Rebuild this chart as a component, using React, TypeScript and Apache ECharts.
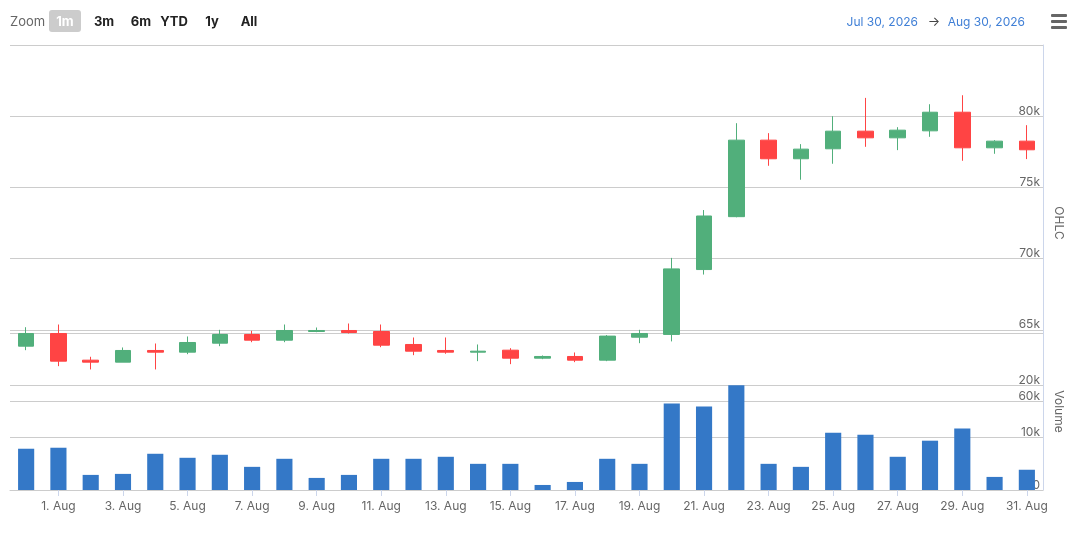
import React, { useEffect, useRef } from "react";
import * as echarts from "echarts";

const dates: string[] = [
  "31. Jul", "1. Aug", "2. Aug", "3. Aug", "4. Aug", "5. Aug", "6. Aug", "7. Aug",
  "8. Aug", "9. Aug", "10. Aug", "11. Aug", "12. Aug", "13. Aug", "14. Aug", "15. Aug",
  "16. Aug", "17. Aug", "18. Aug", "19. Aug", "20. Aug", "21. Aug", "22. Aug", "23. Aug",
  "24. Aug", "25. Aug", "26. Aug", "27. Aug", "28. Aug", "29. Aug", "30. Aug", "31. Aug",
];

const opens: number[] = [
  63850, 64741, 62868, 62728, 63548, 63429, 64060, 64670, 64271, 64881, 64951, 64880,
  63969, 63548, 63429, 63569, 63008, 63127, 62868, 64481, 64676, 69231, 72945, 78318,
  77010, 77711, 78949, 78482, 78972, 80280, 77781, 78248,
];
const highs: number[] = [
  65182, 65372, 63106, 63759, 64039, 64530, 65000, 64930, 65372, 65161, 65442, 65372,
  64460, 64460, 63969, 63710, 63197, 63408, 64629, 65000, 70050, 73410, 79509, 78809,
  78038, 80000, 81285, 79229, 80841, 81472, 78318, 79369,
];
const lows: number[] = [
  63569, 62447, 62216, 62728, 62216, 63289, 63850, 64130, 64130, 64832, 64741, 63780,
  63219, 63317, 62798, 62588, 62938, 62728, 62798, 64060, 64185, 68880, 72900, 76519,
  75538, 76660, 77851, 77617, 78552, 76870, 77360, 76987,
];
const closes: number[] = [
  64741, 62798, 62728, 63548, 63429, 64109, 64670, 64271, 64951, 64951, 64811, 63920,
  63499, 63430, 63499, 63008, 63127, 62868, 64558, 64741, 69278, 72992, 78318, 77010,
  77687, 78949, 78482, 79019, 80280, 77781, 78248, 77641,
];
const volumes: number[] = [
  7885, 8077, 2885, 3077, 6923, 6154, 6731, 4423, 5962, 2308, 2885, 5962, 5962, 6346,
  5000, 5000, 962, 1538, 5962, 5000, 16538, 15962, 20000, 5000, 4423, 10961, 10577,
  6346, 9423, 11731, 2500, 3846,
];

const zoomButtons: string[] = ["1m", "3m", "6m", "YTD", "1y", "All"];
const rangeFrom = "Jul 30, 2026";
const rangeTo = "Aug 30, 2026";

const FONT = "Inter, 'Noto Sans', sans-serif";
const GREEN = "#51af7b";
const RED = "#ff4444";
const BLUE = "#3478c7";
const GRID = "#cccccc";
const AXIS = "#ccd6eb";

const kFmt = (v: number) => (v === 0 ? "0" : v / 1000 + "k");

export default function App() {
  const ref = useRef<HTMLDivElement>(null);
  useEffect(() => {
    if (!ref.current) return;
    const chart = echarts.init(ref.current, undefined, { renderer: "svg" });
    const candle = dates.map((_, i) => [opens[i], closes[i], lows[i], highs[i]]);
    const btnX = [65, 104, 141, 174, 212, 249];
    const graphics: any[] = [
      {
        type: "text", x: 10, y: 21,
        style: { text: "Zoom", font: `13px ${FONT}`, fill: "#666666", textVerticalAlign: "middle" },
      },
      {
        type: "rect", shape: { x: 49, y: 10, width: 32, height: 22, r: 3 },
        style: { fill: "#cccccc" },
      },
      ...zoomButtons.map((b, i) => ({
        type: "text", x: btnX[i], y: 21,
        style: {
          text: b, font: `bold 13px ${FONT}`, fill: i === 0 ? "#ffffff" : "#222222",
          textAlign: "center", textVerticalAlign: "middle",
        },
      })),
      {
        type: "text", x: 918, y: 21,
        style: { text: rangeFrom, font: `12px ${FONT}`, fill: "#3f7fd6", textAlign: "right", textVerticalAlign: "middle" },
      },
      {
        type: "text", x: 934, y: 21,
        style: { text: "→", font: `13px ${FONT}`, fill: "#444444", textAlign: "center", textVerticalAlign: "middle" },
      },
      {
        type: "text", x: 1025, y: 21,
        style: { text: rangeTo, font: `12px ${FONT}`, fill: "#3f7fd6", textAlign: "right", textVerticalAlign: "middle" },
      },
      ...[14, 20, 26].map((y) => ({
        type: "rect", shape: { x: 1051, y, width: 16, height: 3, r: 1 },
        style: { fill: "#666666" },
      })),
    ];
    chart.setOption({
      animation: false,
      textStyle: { fontFamily: FONT },
      graphic: graphics,
      grid: [
        { left: 10, right: 37, top: 45, height: 356 },
        { left: 10, right: 37, top: 333, height: 157 },
      ],
      xAxis: [
        {
          type: "category", gridIndex: 0, data: dates, boundaryGap: true,
          axisLine: { show: false }, axisTick: { show: false }, axisLabel: { show: false },
          splitLine: { show: false },
        },
        {
          type: "category", gridIndex: 1, data: dates, boundaryGap: true,
          axisLine: { show: true, lineStyle: { color: GRID } },
          axisTick: {
            show: true, alignWithLabel: true, length: 6,
            interval: (i: number) => i % 2 === 1,
            lineStyle: { color: AXIS },
          },
          axisLabel: {
            interval: (i: number) => i % 2 === 1,
            color: "#666666", fontSize: 12, margin: 9, fontFamily: FONT,
          },
          splitLine: { show: false },
        },
      ],
      yAxis: [
        {
          type: "value", gridIndex: 0, position: "right", min: 60000, max: 85000, interval: 5000,
          name: "OHLC", nameLocation: "middle", nameRotate: -90, nameGap: 10,
          nameTextStyle: { color: "#666666", fontSize: 12, fontFamily: FONT },
          axisLine: { show: true, lineStyle: { color: AXIS, width: 1 } },
          axisTick: { show: false },
          axisLabel: {
            inside: true, margin: 3, color: "#666666", fontSize: 12, fontFamily: FONT,
            verticalAlign: "bottom", showMaxLabel: false,
            formatter: (v: number) => (v >= 85000 ? "" : kFmt(v)),
          },
          splitLine: { show: true, lineStyle: { color: GRID, width: 1 } },
        },
        {
          type: "value", gridIndex: 1, position: "right", min: 0, max: 30000, interval: 10000,
          name: "Volume", nameLocation: "middle", nameRotate: -90, nameGap: 10,
          nameTextStyle: { color: "#666666", fontSize: 12, fontFamily: FONT },
          axisLine: { show: true, lineStyle: { color: AXIS, width: 1 } },
          axisTick: { show: false },
          axisLabel: {
            inside: true, margin: 3, color: "#666666", fontSize: 12, fontFamily: FONT,
            verticalAlign: "bottom", showMaxLabel: false,
            formatter: (v: number) => (v >= 30000 ? "" : kFmt(v)),
          },
          splitLine: { show: true, lineStyle: { color: GRID, width: 1 } },
        },
      ],
      series: [
        {
          type: "candlestick", name: "OHLC", xAxisIndex: 0, yAxisIndex: 0, data: candle,
          barWidth: "50%",
          itemStyle: { color: GREEN, color0: RED, borderColor: GREEN, borderColor0: RED, borderWidth: 1 },
        },
        {
          type: "bar", name: "Volume", xAxisIndex: 1, yAxisIndex: 1, data: volumes,
          barWidth: "50%", itemStyle: { color: BLUE },
        },
      ],
    });
    return () => chart.dispose();
  }, []);
  return (
    <div
      ref={ref}
      style={{ position: "fixed", left: 0, top: 0, width: 1080, height: 534 }}
    />
  );
}
